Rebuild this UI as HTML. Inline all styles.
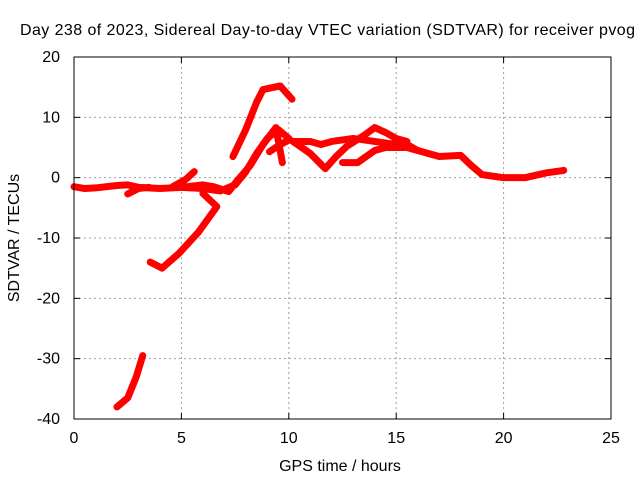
<!DOCTYPE html>
<html><head><meta charset="utf-8"><style>
body{margin:0;background:#fff;}
svg text{font-family:"Liberation Sans",sans-serif;font-size:16px;fill:#000;}
</style></head><body>
<svg id="c" width="640" height="480">
<text x="20" y="35" text-anchor="start" textLength="615">Day 238 of 2023, Sidereal Day-to-day VTEC variation (SDTVAR) for receiver pvog</text>
<text x="340" y="471" text-anchor="middle">GPS time / hours</text>
<text x="19" y="238" text-anchor="middle" transform="rotate(-90 19 238)">SDTVAR / TECUs</text>
<g id="grid"></g><g id="series"></g><g id="axes"></g>
</svg>
<script>
const xTicks=[0,5,10,15,20,25];
const yTicks=[20,10,0,-10,-20,-30,-40];
const arcA=[[0,-1.5],[0.5,-1.8],[1,-1.7],[2,-1.3],[2.5,-1.2],[3,-1.6],[4,-1.8],[5,-1.6],[6,-1.8],[6.8,-2.2],[7.5,-1.2],[8,1],[8.5,4],[9,6.5],[9.5,8],[10,6.5]];
const arcB=[[7.4,3.5],[8,8],[8.5,12.5],[8.8,14.6],[9.6,15.2],[10.15,13]];
const arcC=[[5,-1.6],[6,-1.2],[6.5,-1.5],[7.2,-2.3],[7.6,-0.5],[8.2,2],[8.8,5.5],[9.4,8.3],[9.7,2.5]];
const arcD=[[9.1,4.3],[9.6,5.5],[10.05,6.3]];
const arcE=[[3.55,-14],[4.1,-15],[4.9,-12.5],[5.8,-9],[6.65,-4.8],[6.0,-2.6]];
const arcF=[[2,-38],[2.5,-36.5],[2.9,-33],[3.2,-29.5]];
const arcG=[[4.6,-1.5],[5.2,-0.3],[5.6,1]];
const arcH=[[2.5,-2.7],[3,-1.8],[3.5,-1.6]];
const arcI=[[10.2,6],[11,6],[11.5,5.5],[12,6],[13,6.5],[14,6],[15,5.5],[15.5,5.5],[16,4.5],[17,3.5],[18,3.7],[18.5,2],[19,0.5],[20,0],[21,0],[22,0.8],[22.8,1.2]];
const arcJ=[[10.2,6],[11,4],[11.7,1.5],[12.2,3.5],[12.7,5.2],[13.5,7],[14,8.3],[14.5,7.5],[15,6.5],[15.5,6]];
const arcK=[[12.5,2.5],[13.2,2.5],[14,4.5],[14.5,5],[15.5,5],[16,4.5]];
const arcs=[arcA,arcB,arcC,arcD,arcE,arcF,arcG,arcH,arcI,arcJ,arcK];
const X0=74,X1=611,Y0=419,Y1=57;
const sx=v=>X0+(v-0)/(25-0)*(X1-X0);
const sy=v=>Y0-(v+40)/60*(Y0-Y1);
const NS="http://www.w3.org/2000/svg";
function mk(t,a,p){const e=document.createElementNS(NS,t);for(const k in a)e.setAttribute(k,a[k]);p.appendChild(e);return e;}
const grid=document.getElementById('grid'),axes=document.getElementById('axes'),ser=document.getElementById('series');
xTicks.forEach(t=>{
 if(t>0&&t<25){const g=mk('line',{x1:sx(t),x2:sx(t),y1:Y1,y2:Y0,stroke:'#a0a0a0','stroke-dasharray':'2,3'},grid);
 
 }
 const l=mk('text',{x:sx(t),y:Y0+24,'text-anchor':'middle'},axes);l.textContent=t;
 
 
 mk('line',{x1:sx(t),x2:sx(t),y1:Y0,y2:Y0-6,stroke:'#000'},axes);
 mk('line',{x1:sx(t),x2:sx(t),y1:Y1,y2:Y1+6,stroke:'#000'},axes);
});
yTicks.forEach(t=>{
 if(t>-40&&t<20){const g=mk('line',{x1:X0,x2:X1,y1:sy(t),y2:sy(t),stroke:'#a0a0a0','stroke-dasharray':'2,3'},grid);
 
 }
 const l=mk('text',{x:X0-14,y:sy(t)+5,'text-anchor':'end'},axes);l.textContent=t;
 
 
 mk('line',{x1:X0,x2:X0+6,y1:sy(t),y2:sy(t),stroke:'#000'},axes);
 mk('line',{x1:X1,x2:X1-6,y1:sy(t),y2:sy(t),stroke:'#000'},axes);
});
const fr=mk('rect',{x:X0,y:Y1,width:X1-X0,height:Y0-Y1,fill:'none',stroke:'#000'},axes);


arcs.forEach(a=>{
 const p=mk('polyline',{points:a.map(d=>sx(d[0])+','+sy(d[1])).join(' '),fill:'none',stroke:'#ff0000','stroke-width':7,'stroke-linejoin':'round','stroke-linecap':'round'},ser);
 
 
});
</script>
</body></html>
